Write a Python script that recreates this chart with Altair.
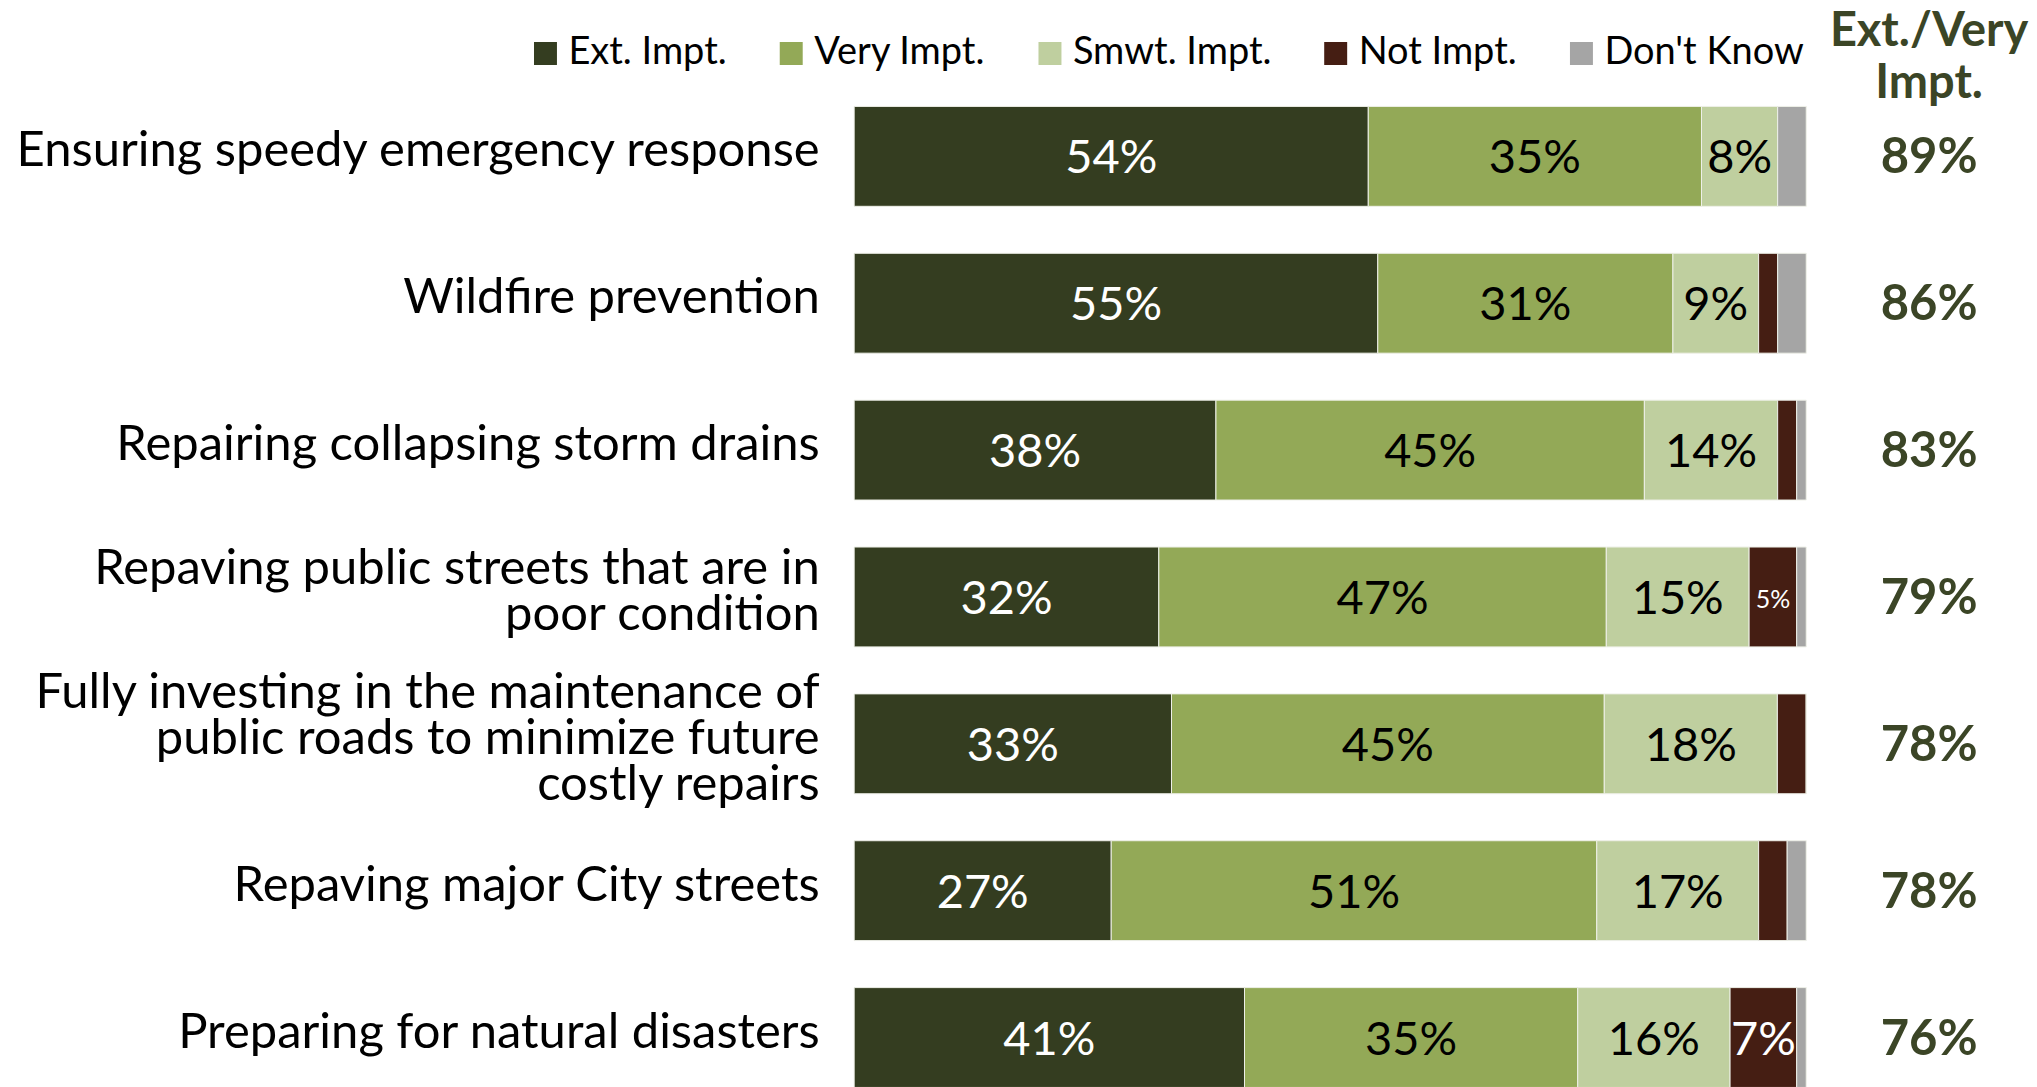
import altair as alt
import pandas as pd

tasks = [
    "Ensuring speedy emergency response",
    "Wildfire prevention",
    "Repairing collapsing storm drains",
    "Repaving public streets that are in|poor condition",
    "Fully investing in the maintenance of|public roads to minimize future|costly repairs",
    "Repaving major City streets",
    "Preparing for natural disasters",
]
responses = ["Ext. Impt.", "Very Impt.", "Smwt. Impt.", "Not Impt.", "Don't Know"]
ext = [54, 55, 38, 32, 33, 27, 41]
very = [35, 31, 45, 47, 45, 51, 35]
smwt = [8, 9, 14, 15, 18, 17, 16]
not_imp = [0, 2, 2, 5, 3, 3, 7]
dont_know = [3, 3, 1, 1, 0, 2, 1]
colors = ["#343d20", "#93a957", "#bfcf9f", "#451e13", "#a5a5a5"]

series = [ext, very, smwt, not_imp, dont_know]
rows = []
for i, t in enumerate(tasks):
    for j, r in enumerate(responses):
        rows.append({"task": t, "resp": r, "order": j, "pct": series[j][i]})
long_df = pd.DataFrame(rows)
wide_df = pd.DataFrame({"task": tasks, "ext": ext, "very": very})

FONT = "Lato"
H = 982
W_LEFT = 953
W_RIGHT = 160
HEAD = "#3b4526"

yscale = alt.Scale(type="band", paddingInner=0.32, paddingOuter=0)

base = alt.Chart(long_df).transform_stack(
    stack="pct", groupby=["task"], as_=["x0", "x1"], offset="normalize",
    sort=[alt.SortField("order", order="ascending")],
).transform_calculate(
    mid="(datum.x0 + datum.x1) / 2", label="datum.pct + '%'"
)

label_offset = {
    "condition": [
        {"test": "length(split(datum.value, '|')) == 3", "value": -51},
        {"test": "length(split(datum.value, '|')) == 2", "value": -28},
    ],
    "value": -5,
}

bars = base.mark_bar(stroke="#eef0e8", strokeWidth=1).encode(
    y=alt.Y("task:N", sort=tasks, scale=yscale, title=None,
            axis=alt.Axis(labelExpr="split(datum.label, '|')", labelFontSize=49,
                          labelLineHeight=46, labelPadding=35, labelLimit=2000,
                          labelOffset=label_offset,
                          ticks=False, domain=False, labelColor="black",
                          labelFont=FONT, labelAlign="right", labelBaseline="middle")),
    x=alt.X("x0:Q", axis=None, scale=alt.Scale(domain=[0, 1], nice=False)),
    x2="x1:Q",
    color=alt.Color("resp:N", sort=responses,
                    scale=alt.Scale(domain=responses, range=colors),
                    legend=alt.Legend(orient="none", legendX=-328, legendY=-72,
                                      direction="horizontal", columns=5, title=None,
                                      symbolType="square", symbolSize=529,
                                      labelFontSize=38, labelFont=FONT, labelColor="black",
                                      labelLimit=500,
                                      columnPadding=45, labelOffset=4,
                                      symbolStrokeWidth=0, symbolOpacity=1)),
)

labels = base.transform_filter("datum.pct >= 5").mark_text(font=FONT, dy=3).encode(
    y=alt.Y("task:N", sort=tasks, scale=yscale),
    x=alt.X("mid:Q", scale=alt.Scale(domain=[0, 1], nice=False)),
    text="label:N",
    color=alt.condition("datum.resp == 'Ext. Impt.' || datum.resp == 'Not Impt.'",
                        alt.value("white"), alt.value("black")),
    size=alt.condition("datum.pct < 6", alt.value(25), alt.value(47)),
)

left = alt.layer(bars, labels).properties(width=W_LEFT, height=H)

right = alt.Chart(wide_df).transform_calculate(
    total="(datum.ext + datum.very) + '%'"
).mark_text(font=FONT, fontWeight="bold", fontSize=49, color=HEAD, dy=2).encode(
    y=alt.Y("task:N", sort=tasks, scale=yscale, axis=None),
    text="total:N",
).properties(
    width=W_RIGHT, height=H,
    title=alt.TitleParams(["Ext./Very", "Impt."], font=FONT, fontSize=47,
                          fontWeight="bold", color=HEAD, lineHeight=52,
                          anchor="middle", offset=-2),
)

chart = alt.hconcat(left, right, spacing=43, bounds="flush").configure_view(
    stroke=None
).properties(padding={"left": 5, "top": 0, "right": 0, "bottom": 0})

chart.save("out.html", embed_options={"renderer": "svg", "actions": False})
